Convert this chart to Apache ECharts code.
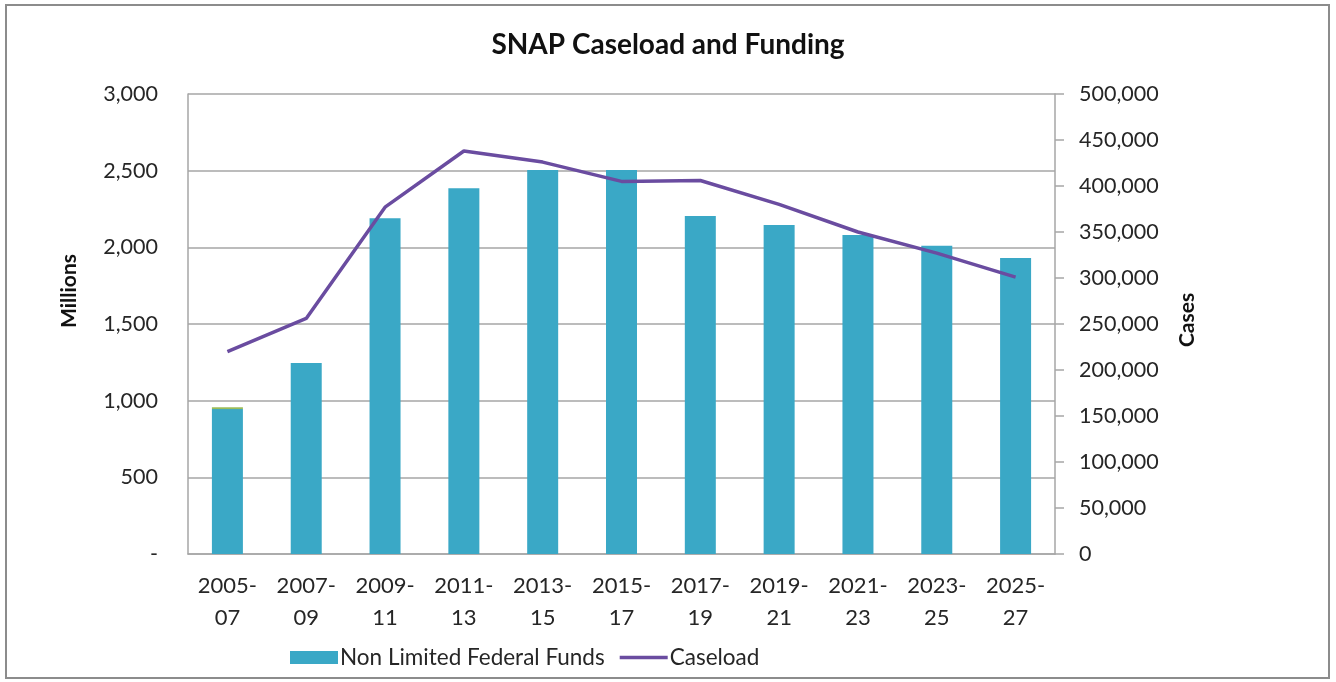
<!DOCTYPE html>
<html>
<head>
<meta charset="utf-8">
<title>SNAP Caseload and Funding</title>
<script src="https://cdn.jsdelivr.net/npm/echarts@6/dist/echarts.min.js"></script>
<style>
  html, body { margin: 0; padding: 0; background: #ffffff; }
  #chart { width: 1336px; height: 682px; }
</style>
</head>
<body>
<div id="chart"></div>
<script>
// Biennium labels (two-line ticks)
const biennia = ['2005-\n07', '2007-\n09', '2009-\n11', '2011-\n13', '2013-\n15', '2015-\n17',
                 '2017-\n19', '2019-\n21', '2021-\n23', '2023-\n25', '2025-\n27'];

// Funding in millions of dollars
const nonLimitedFederalFunds = [945, 1245, 2190, 2385, 2505, 2505, 2205, 2145, 2080, 2010, 1930];
// Small additional fund source stacked on top of the bars
const otherFunds = [12, 0, 0, 0, 0, 0, 0, 0, 0, 0, 0];

// Average caseload (cases)
const caseload = [220000, 256000, 377000, 438000, 426000, 405000, 406000, 380000, 350000, 327000, 301000];

// Axis ranges
const fundsAxis = { min: 0, max: 3000, interval: 500 };
const casesAxis = { min: 0, max: 500000, interval: 50000 };

const FONT = 'Lato, "Open Sans", sans-serif';
const TEXT = '#262626';
const GRID_GREY = '#a6a6a6';
const BAR_COLOR = '#3aa8c6';
const LINE_COLOR = '#6a4ca0';

const fmt = v => v.toLocaleString('en-US');

const chart = echarts.init(document.getElementById('chart'), null, { renderer: 'canvas' });

chart.setOption({
  backgroundColor: '#ffffff',
  animation: false,
  textStyle: { fontFamily: FONT, color: TEXT },
  title: {
    text: 'SNAP Caseload and Funding',
    left: 'center',
    top: 26,
    textStyle: { fontFamily: FONT, fontSize: 28, fontWeight: 'bold', color: '#111' }
  },
  graphic: [{
    type: 'rect',
    shape: { x: 6, y: 5, width: 1323, height: 673 },
    style: { fill: 'none', stroke: '#8c8c8c', lineWidth: 2 },
    silent: true
  }],
  legend: {
    left: 285,
    top: 641,
    itemWidth: 48,
    itemHeight: 13,
    itemGap: 15,
    data: [
      { name: 'Non Limited Federal Funds', icon: 'rect' },
      { name: 'Caseload', icon: 'path://M0,0 L48,0 L48,3.5 L0,3.5 Z' }
    ],
    textStyle: { fontFamily: FONT, fontSize: 22.5, color: TEXT, padding: [0, 0, 0, -3] }
  },
  grid: { left: 188, right: 281, top: 94, bottom: 128, containLabel: false },
  xAxis: {
    type: 'category',
    data: biennia,
    axisLine: { lineStyle: { color: GRID_GREY, width: 1.5 } },
    axisTick: { show: false },
    axisLabel: {
      fontFamily: FONT, fontSize: 22, color: TEXT,
      lineHeight: 32, margin: 16, interval: 0
    }
  },
  yAxis: [{
    type: 'value',
    name: 'Millions',
    nameLocation: 'middle',
    nameGap: 108,
    nameRotate: 90,
    nameTextStyle: { fontFamily: FONT, fontSize: 21, fontWeight: 'bold', color: '#111', padding: [0, 0, 0, 66] },
    min: fundsAxis.min, max: fundsAxis.max, interval: fundsAxis.interval,
    axisLine: { show: true, lineStyle: { color: GRID_GREY, width: 1.5 } },
    axisTick: { show: false },
    splitLine: { lineStyle: { color: GRID_GREY, width: 1.5 } },
    axisLabel: {
      fontFamily: FONT, fontSize: 21.5, color: TEXT, margin: 30,
      formatter: v => v === 0 ? '-' : fmt(v)
    }
  }, {
    type: 'value',
    name: 'Cases',
    nameLocation: 'middle',
    nameGap: 122,
    nameRotate: 90,
    nameTextStyle: { fontFamily: FONT, fontSize: 21, fontWeight: 'bold', color: '#111', padding: [0, 0, 0, 8] },
    min: casesAxis.min, max: casesAxis.max, interval: casesAxis.interval,
    position: 'right',
    axisLine: { show: true, lineStyle: { color: GRID_GREY, width: 1.5 } },
    axisTick: { show: true, length: 9, lineStyle: { color: GRID_GREY, width: 1.5 } },
    splitLine: { show: false },
    axisLabel: {
      fontFamily: FONT, fontSize: 21.5, color: TEXT, margin: 24,
      formatter: v => fmt(v)
    }
  }],
  series: [{
    name: 'Non Limited Federal Funds',
    type: 'bar',
    stack: 'funds',
    yAxisIndex: 0,
    data: nonLimitedFederalFunds,
    barWidth: 31,
    itemStyle: { color: BAR_COLOR },
    z: 2
  }, {
    name: 'Other Funds',
    type: 'bar',
    stack: 'funds',
    yAxisIndex: 0,
    data: otherFunds,
    barWidth: 31,
    itemStyle: { color: '#9bbb59' },
    z: 2
  }, {
    name: 'Caseload',
    type: 'line',
    yAxisIndex: 1,
    data: caseload,
    symbol: 'none',
    lineStyle: { color: LINE_COLOR, width: 3.5 },
    itemStyle: { color: LINE_COLOR },
    z: 5
  }]
});
</script>
</body>
</html>
